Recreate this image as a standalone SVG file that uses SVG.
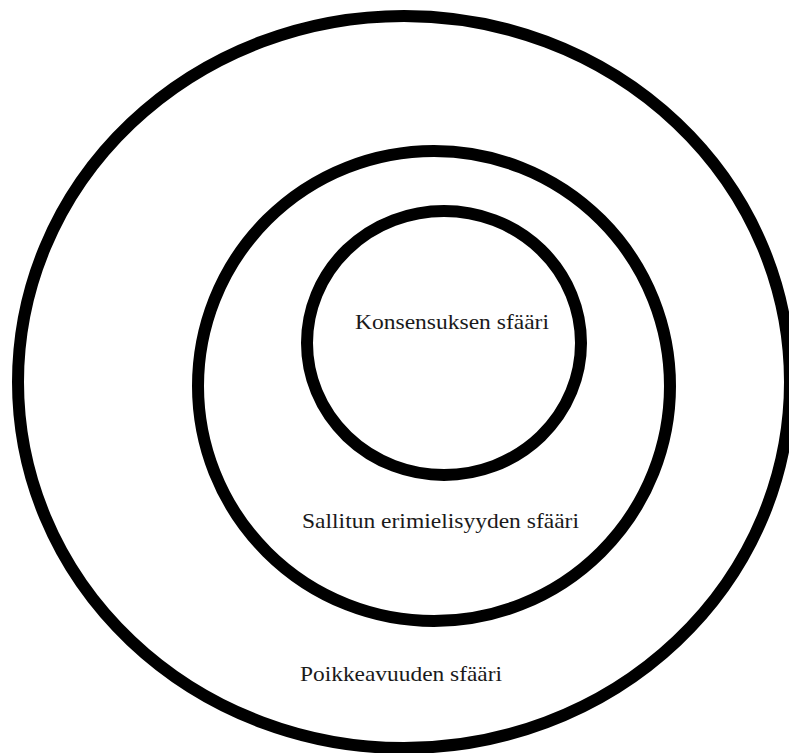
<svg xmlns="http://www.w3.org/2000/svg" width="789" height="753" viewBox="0 0 789 753">
<style>
.ring{fill:none;stroke:#000;stroke-width:12}
.lbl{font-family:"Liberation Serif","DejaVu Serif",serif;font-size:22px;fill:#1a1a1a}
</style>
<rect width="789" height="753" fill="#fff"/>
<g id="outer">
<ellipse class="ring" cx="404" cy="382" rx="386" ry="366"/>
<text class="lbl" x="300" y="681" textLength="202" lengthAdjust="spacingAndGlyphs">Poikkeavuuden sfääri</text>
</g>
<g id="middle">
<ellipse class="ring" cx="434" cy="386" rx="236" ry="235"/>
<text class="lbl" x="302" y="528" textLength="277" lengthAdjust="spacingAndGlyphs">Sallitun erimielisyyden sfääri</text>
</g>
<g id="inner">
<ellipse class="ring" cx="444" cy="343" rx="137" ry="132"/>
<text class="lbl" x="355" y="329" textLength="194" lengthAdjust="spacingAndGlyphs">Konsensuksen sfääri</text>
</g>
<g id="connectors"/>
</svg>
